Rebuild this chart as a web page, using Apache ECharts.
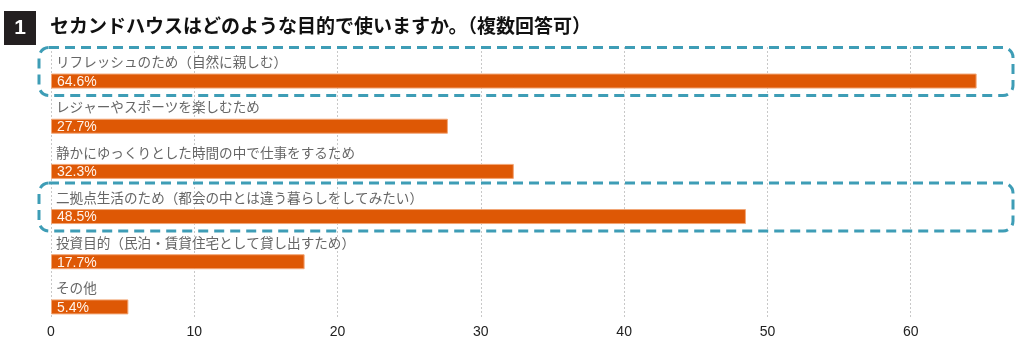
<!DOCTYPE html>
<html>
<head>
<meta charset="utf-8">
<script src="https://cdn.jsdelivr.net/npm/echarts@6/dist/echarts.min.js"></script>
<style>
html,body{margin:0;padding:0;background:#fff;}
#chart{width:1020px;height:337px;}
</style>
</head>
<body>
<div id="chart"></div>
<script>
const titleNumber = '1';
const titleText = 'セカンドハウスはどのような目的で使いますか。（複数回答可）';
const categories = [
  'リフレッシュのため（自然に親しむ）',
  'レジャーやスポーツを楽しむため',
  '静かにゆっくりとした時間の中で仕事をするため',
  '二拠点生活のため（都会の中とは違う暮らしをしてみたい）',
  '投資目的（民泊・賃貸住宅として貸し出すため）',
  'その他'
];
const values = [64.6, 27.7, 32.3, 48.5, 17.7, 5.4];
const highlighted = [
  'リフレッシュのため（自然に親しむ）',
  '二拠点生活のため（都会の中とは違う暮らしをしてみたい）'
];
const xTicks = [0, 10, 20, 30, 40, 50, 60];

const jp = '"Noto Sans CJK JP", "Noto Sans", sans-serif';
const num = '"Liberation Sans", Arial, sans-serif';

const chart = echarts.init(document.getElementById('chart'));
chart.setOption({
  animation: false,
  backgroundColor: '#ffffff',
  title: {
    text: titleText,
    left: 45, top: 11,
    textStyle: {fontFamily: jp, fontSize: 19, fontWeight: 'bold', color: '#111'}
  },
  grid: {left: 51, width: 1003, top: 47, height: 271, containLabel: false, outerBoundsMode: 'none'},
  xAxis: {
    type: 'value', min: 0, max: 70, interval: 10,
    axisLine: {show: false}, axisTick: {show: false},
    axisLabel: {
      margin: 7, color: '#222', fontFamily: num, fontSize: 14,
      formatter: v => (xTicks.indexOf(v) >= 0 ? String(v) : '')
    },
    splitLine: {show: true, lineStyle: {color: '#c8c8c8', type: [2, 2], width: 1}}
  },
  yAxis: {
    type: 'category', data: categories, inverse: true,
    axisLine: {show: false}, axisTick: {show: false}, axisLabel: {show: false},
    splitLine: {show: false}
  },
  series: [
    {
      name: 'names', type: 'bar', data: values, barWidth: 15, barGap: '53%',
      itemStyle: {color: 'rgba(0,0,0,0)'},
      label: {
        show: true, position: 'insideLeft', distance: 5, offset: [0, 4],
        formatter: p => p.name,
        color: '#666', fontFamily: jp, fontSize: 13.6
      },
      silent: true
    },
    {
      name: 'values', type: 'bar', data: values, barWidth: 15,
      itemStyle: {color: '#de5805', borderColor: '#f2a676', borderWidth: 1},
      label: {
        show: true, position: 'insideLeft', distance: 6, offset: [0, 1],
        formatter: p => p.value + '%',
        color: '#fff4ec', fontFamily: num, fontSize: 14
      }
    }
  ]
});

const graphics = [
  {type: 'rect', shape: {x: 4, y: 11, width: 32, height: 34}, style: {fill: '#231f20'}},
  {type: 'text', x: 20, y: 28, style: {text: titleNumber, fill: '#fff', fontSize: 21, fontWeight: 'bold', fontFamily: num, align: 'center', verticalAlign: 'middle'}}
];
const x0 = chart.convertToPixel({xAxisIndex: 0}, 0);
highlighted.forEach(c => {
  const cy = chart.convertToPixel({yAxisIndex: 0}, c);
  graphics.push({
    type: 'rect',
    shape: {x: x0 - 12, y: cy - 22, width: 1013 - (x0 - 12), height: 48, r: 10},
    style: {fill: 'none', stroke: '#3e9db6', lineWidth: 3, lineDash: [10, 6]}
  });
});
chart.setOption({graphic: graphics});
</script>
</body>
</html>
